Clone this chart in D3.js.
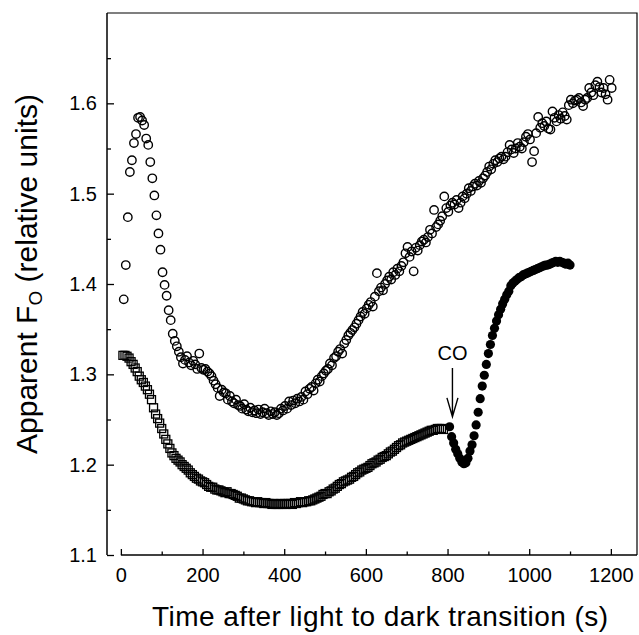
<!DOCTYPE html>
<html>
<head>
<meta charset="utf-8">
<script src="https://cdn.jsdelivr.net/npm/d3@7"></script>
<style>
    body { margin: 0; background: #fff; }
    svg text { font-family: "Liberation Sans", Arial, Helvetica, sans-serif; fill: #000; }
</style>
</head>
<body>
<div id="foPlot"></div>
<script>
// open circles (upper trace)
const circleTimes = [
    7, 12, 17, 22, 27, 32, 37, 42, 47, 52,
    57, 62, 67, 72, 77, 82, 87, 92, 97, 102,
    107, 112, 117, 122, 127, 132, 137, 142, 147, 152,
    157, 162, 167, 172, 177, 182, 187, 192, 197, 202,
    207, 212, 217, 222, 227, 232, 237, 242, 247, 252,
    257, 262, 267, 272, 277, 282, 287, 292, 297, 302,
    307, 312, 317, 322, 327, 332, 337, 342, 347, 352,
    357, 362, 367, 372, 377, 382, 387, 392, 397, 402,
    407, 412, 417, 422, 427, 432, 437, 442, 447, 452,
    457, 462, 467, 472, 477, 482, 487, 492, 497, 502,
    507, 512, 517, 522, 527, 532, 537, 542, 547, 552,
    557, 562, 567, 572, 577, 582, 587, 592, 597, 602,
    607, 612, 617, 622, 627, 632, 637, 642, 647, 652,
    657, 662, 667, 672, 677, 682, 687, 692, 697, 702,
    707, 712, 717, 722, 727, 732, 737, 742, 747, 752,
    757, 762, 767, 772, 777, 782, 787, 792, 797, 802,
    807, 812, 817, 822, 827, 832, 837, 842, 847, 852,
    857, 862, 867, 872, 877, 882, 887, 892, 897, 902,
    907, 912, 917, 922, 927, 932, 937, 942, 947, 952,
    957, 962, 967, 972, 977, 982, 987, 992, 997, 1002,
    1007, 1012, 1017, 1022, 1027, 1032, 1037, 1042, 1047, 1052,
    1057, 1062, 1067, 1072, 1077, 1082, 1087, 1092, 1097, 1102,
    1107, 1112, 1117, 1122, 1127, 1132, 1137, 1142, 1147, 1152,
    1157, 1162, 1167, 1172, 1177, 1182, 1187, 1192, 1197, 1202
];
const circleValues = [
    1.383, 1.421, 1.474, 1.524, 1.537, 1.556, 1.566, 1.584, 1.585, 1.581,
    1.576, 1.561, 1.554, 1.535, 1.517, 1.498, 1.476, 1.456, 1.438, 1.413,
    1.399, 1.387, 1.371, 1.360, 1.345, 1.337, 1.331, 1.325, 1.319, 1.312,
    1.316, 1.320, 1.313, 1.310, 1.315, 1.311, 1.306, 1.323, 1.307, 1.305,
    1.306, 1.303, 1.301, 1.298, 1.293, 1.289, 1.285, 1.276, 1.283, 1.280,
    1.279, 1.272, 1.276, 1.270, 1.268, 1.272, 1.266, 1.265, 1.262, 1.267,
    1.261, 1.259, 1.263, 1.258, 1.260, 1.257, 1.261, 1.256, 1.258, 1.262,
    1.257, 1.255, 1.259, 1.256, 1.258, 1.255, 1.257, 1.262, 1.260, 1.265,
    1.262, 1.270, 1.266, 1.271, 1.268, 1.273, 1.270, 1.275, 1.272, 1.281,
    1.278, 1.284, 1.286, 1.282, 1.290, 1.294, 1.292, 1.298, 1.301, 1.304,
    1.306, 1.312, 1.310, 1.318, 1.320, 1.325, 1.328, 1.323, 1.334, 1.338,
    1.343, 1.346, 1.349, 1.352, 1.356, 1.360, 1.364, 1.369, 1.367, 1.373,
    1.377, 1.380, 1.375, 1.386, 1.412, 1.392, 1.396, 1.393, 1.400, 1.404,
    1.408, 1.405, 1.413, 1.410, 1.417, 1.414, 1.420, 1.424, 1.434, 1.441,
    1.430, 1.436, 1.414, 1.440, 1.437, 1.443, 1.447, 1.449, 1.446, 1.452,
    1.460, 1.456, 1.482, 1.463, 1.466, 1.470, 1.475, 1.497, 1.484, 1.480,
    1.487, 1.490, 1.488, 1.493, 1.484, 1.490, 1.497, 1.495, 1.500, 1.506,
    1.503, 1.508, 1.511, 1.509, 1.514, 1.512, 1.517, 1.520, 1.524, 1.530,
    1.527, 1.533, 1.537, 1.535, 1.539, 1.541, 1.538, 1.541, 1.546, 1.554,
    1.549, 1.545, 1.550, 1.556, 1.552, 1.550, 1.557, 1.563, 1.566, 1.560,
    1.535, 1.547, 1.567, 1.585, 1.573, 1.578, 1.575, 1.580, 1.572, 1.571,
    1.591, 1.584, 1.580, 1.587, 1.583, 1.590, 1.586, 1.582, 1.598, 1.604,
    1.600, 1.603, 1.604, 1.606, 1.601, 1.597, 1.604, 1.606, 1.617, 1.612,
    1.609, 1.620, 1.624, 1.618, 1.612, 1.617, 1.610, 1.604, 1.626, 1.617
];

// open squares (lower trace, before CO)
const squareTimes = [
    5, 10, 15, 20, 25, 30, 35, 40, 45, 50,
    55, 60, 65, 70, 75, 80, 85, 90, 95, 100,
    105, 110, 115, 120, 125, 130, 135, 140, 145, 150,
    155, 160, 165, 170, 175, 180, 185, 190, 195, 200,
    205, 210, 215, 220, 225, 230, 235, 240, 245, 250,
    255, 260, 265, 270, 275, 280, 285, 290, 295, 300,
    305, 310, 315, 320, 325, 330, 335, 340, 345, 350,
    355, 360, 365, 370, 375, 380, 385, 390, 395, 400,
    405, 410, 415, 420, 425, 430, 435, 440, 445, 450,
    455, 460, 465, 470, 475, 480, 485, 490, 495, 500,
    505, 510, 515, 520, 525, 530, 535, 540, 545, 550,
    555, 560, 565, 570, 575, 580, 585, 590, 595, 600,
    605, 610, 615, 620, 625, 630, 635, 640, 645, 650,
    655, 660, 665, 670, 675, 680, 685, 690, 695, 700,
    705, 710, 715, 720, 725, 730, 735, 740, 745, 750,
    755, 760, 765, 770, 775, 780, 785, 790
];
const squareValues = [
    1.321, 1.321, 1.320, 1.318, 1.314, 1.311, 1.307, 1.303, 1.298, 1.294,
    1.291, 1.287, 1.283, 1.278, 1.272, 1.263, 1.256, 1.251, 1.246, 1.240,
    1.234, 1.228, 1.223, 1.218, 1.213, 1.210, 1.207, 1.205, 1.203, 1.200,
    1.198, 1.196, 1.194, 1.191, 1.189, 1.187, 1.185, 1.184, 1.182, 1.181,
    1.180, 1.178, 1.176, 1.175, 1.175, 1.173, 1.172, 1.172, 1.171, 1.170,
    1.169, 1.170, 1.168, 1.168, 1.167, 1.166, 1.165, 1.163, 1.163, 1.162,
    1.161, 1.160, 1.160, 1.159, 1.159, 1.158, 1.159, 1.158, 1.158, 1.157,
    1.158, 1.157, 1.157, 1.156, 1.157, 1.156, 1.156, 1.157, 1.156, 1.157,
    1.156, 1.157, 1.157, 1.156, 1.158, 1.157, 1.158, 1.159, 1.158, 1.159,
    1.159, 1.160, 1.160, 1.161, 1.162, 1.163, 1.164, 1.165, 1.167, 1.168,
    1.168, 1.170, 1.171, 1.173, 1.174, 1.176, 1.178, 1.179, 1.181, 1.182,
    1.183, 1.184, 1.186, 1.187, 1.189, 1.191, 1.192, 1.194, 1.195, 1.196,
    1.197, 1.199, 1.201, 1.202, 1.203, 1.205, 1.206, 1.208, 1.209, 1.210,
    1.212, 1.214, 1.215, 1.217, 1.219, 1.221, 1.222, 1.224, 1.225, 1.226,
    1.227, 1.228, 1.229, 1.230, 1.231, 1.232, 1.233, 1.234, 1.235, 1.236,
    1.237, 1.238, 1.238, 1.239, 1.240, 1.240, 1.240, 1.239
];

// filled circles (after CO addition)
const filledTimes = [
    805, 810, 815, 820, 825, 830, 835, 840, 845, 850,
    855, 860, 865, 870, 875, 880, 885, 890, 895, 900,
    905, 910, 915, 920, 925, 930, 935, 940, 945, 950,
    955, 960, 965, 970, 975, 980, 985, 990, 995, 1000,
    1005, 1010, 1015, 1020, 1025, 1030, 1035, 1040, 1045, 1050,
    1055, 1060, 1065, 1070, 1075, 1080, 1085, 1090, 1095, 1100
];
const filledValues = [
    1.242, 1.231, 1.224, 1.217, 1.212, 1.207, 1.203, 1.201, 1.202, 1.207,
    1.215, 1.222, 1.232, 1.244, 1.258, 1.273, 1.287, 1.299, 1.311, 1.323,
    1.333, 1.343, 1.351, 1.359, 1.366, 1.372, 1.378, 1.383, 1.388, 1.392,
    1.398, 1.401, 1.403, 1.405, 1.407, 1.408, 1.410, 1.411, 1.412, 1.413,
    1.414, 1.415, 1.416, 1.417, 1.418, 1.419, 1.420, 1.421, 1.421, 1.422,
    1.423, 1.424, 1.425, 1.424, 1.425, 1.424, 1.423, 1.422, 1.423, 1.421
];

const xTicks = [0, 200, 400, 600, 800, 1000, 1200];
const xMinorTicks = [100, 300, 500, 700, 900, 1100];
const yTicks = [1.1, 1.2, 1.3, 1.4, 1.5, 1.6];
const yMinorTicks = [1.15, 1.25, 1.35, 1.45, 1.55, 1.65];

const coTime = 812;

function FoPlot() {
    let vis = this;
    vis.init();
}

FoPlot.prototype.init = function() {
    let vis = this;
    vis.svgWidth = 639;
    vis.svgHeight = 635;
    vis.left = 107;
    vis.right = 637;
    vis.top = 13;
    vis.bottom = 555;

    vis.svg = d3.select('#foPlot').append('svg')
        .attr('width', vis.svgWidth)
        .attr('height', vis.svgHeight);

    vis.x = d3.scaleLinear()
        .domain([-34, 1264])
        .range([vis.left, vis.right]);

    vis.y = d3.scaleLinear()
        .domain([1.1, 1.7])
        .range([vis.bottom, vis.top]);

    // top and right frame
    vis.svg.append('path')
        .attr('d', `M${vis.left},${vis.top}H${vis.right}V${vis.bottom}`)
        .attr('fill', 'none')
        .attr('stroke', '#000')
        .attr('stroke-width', 1.2);

    // x axis (ticks point inwards, line starts at t = 0)
    let xAxis = vis.svg.append('g')
        .attr('transform', `translate(0,${vis.bottom})`)
        .call(d3.axisBottom(vis.x).tickValues(xTicks).tickSizeInner(-6).tickSizeOuter(0).tickPadding(13)
            .tickFormat(d3.format('d')));
    xAxis.select('.domain').remove();
    xAxis.selectAll('text').style('font-size', '20px');
    vis.svg.append('g')
        .attr('transform', `translate(0,${vis.bottom})`)
        .call(d3.axisBottom(vis.x).tickValues(xMinorTicks).tickSizeInner(-3.5).tickFormat(''))
        .select('.domain').remove();
    vis.svg.append('line')
        .attr('x1', vis.x(0)).attr('x2', vis.right)
        .attr('y1', vis.bottom).attr('y2', vis.bottom)
        .attr('stroke', '#000')
        .attr('stroke-width', 1.5);

    // y axis
    let yAxis = vis.svg.append('g')
        .attr('transform', `translate(${vis.left},0)`)
        .call(d3.axisLeft(vis.y).tickValues(yTicks).tickSizeInner(-7).tickSizeOuter(0).tickPadding(10)
            .tickFormat(d3.format('.1f')));
    yAxis.select('.domain').remove();
    yAxis.selectAll('text').style('font-size', '20px');
    vis.svg.append('g')
        .attr('transform', `translate(${vis.left},0)`)
        .call(d3.axisLeft(vis.y).tickValues(yMinorTicks).tickSizeInner(-4).tickFormat(''))
        .select('.domain').remove();
    vis.svg.append('line')
        .attr('x1', vis.left).attr('x2', vis.left)
        .attr('y1', vis.top).attr('y2', vis.bottom)
        .attr('stroke', '#000')
        .attr('stroke-width', 1.5);

    vis.svg.selectAll('.tick line').attr('stroke-width', 1.3);

    // axis titles
    vis.svg.append('text')
        .attr('x', 380)
        .attr('y', 626)
        .attr('text-anchor', 'middle')
        .style('font-size', '28px')
        .attr('textLength', 456)
        .text('Time after light to dark transition (s)');

    let yTitle = vis.svg.append('text')
        .attr('transform', 'translate(37,274) rotate(-90)')
        .attr('text-anchor', 'middle')
        .style('font-size', '30px');
    yTitle.append('tspan').text('Apparent F');
    yTitle.append('tspan').attr('dy', 5).style('font-size', '19px').text('O');
    yTitle.append('tspan').attr('dy', -5).text(' (relative units)');

    vis.draw();
}

FoPlot.prototype.draw = function() {
    let vis = this;
    let side = 8;

    vis.svg.append('g').selectAll('rect')
        .data(squareTimes)
        .enter()
        .append('rect')
        .attr('x', (d) => vis.x(d) - side / 2)
        .attr('y', (d, i) => vis.y(squareValues[i]) - side / 2)
        .attr('width', side)
        .attr('height', side)
        .attr('fill', 'none')
        .attr('stroke', '#000')
        .attr('stroke-width', 1.3);

    vis.svg.append('g').selectAll('circle')
        .data(circleTimes)
        .enter()
        .append('circle')
        .attr('cx', (d) => vis.x(d))
        .attr('cy', (d, i) => vis.y(circleValues[i]))
        .attr('r', 4.2)
        .attr('fill', 'none')
        .attr('stroke', '#000')
        .attr('stroke-width', 1.4);

    vis.svg.append('g').selectAll('circle')
        .data(filledTimes)
        .enter()
        .append('circle')
        .attr('cx', (d) => vis.x(d))
        .attr('cy', (d, i) => vis.y(filledValues[i]))
        .attr('r', 4.6)
        .attr('fill', '#000');

    // CO arrow
    let ax = vis.x(coTime);
    vis.svg.append('text')
        .attr('x', ax)
        .attr('y', vis.y(1.316))
        .attr('text-anchor', 'middle')
        .style('font-size', '20px')
        .text('CO');
    vis.svg.append('path')
        .attr('d', `M${ax},${vis.y(1.307)}V${vis.y(1.253)}M${ax - 5.5},${vis.y(1.274)}L${ax},${vis.y(1.253)}L${ax + 5.5},${vis.y(1.274)}`)
        .attr('fill', 'none')
        .attr('stroke', '#000')
        .attr('stroke-width', 1.4);
}

new FoPlot();
</script>
</body>
</html>
